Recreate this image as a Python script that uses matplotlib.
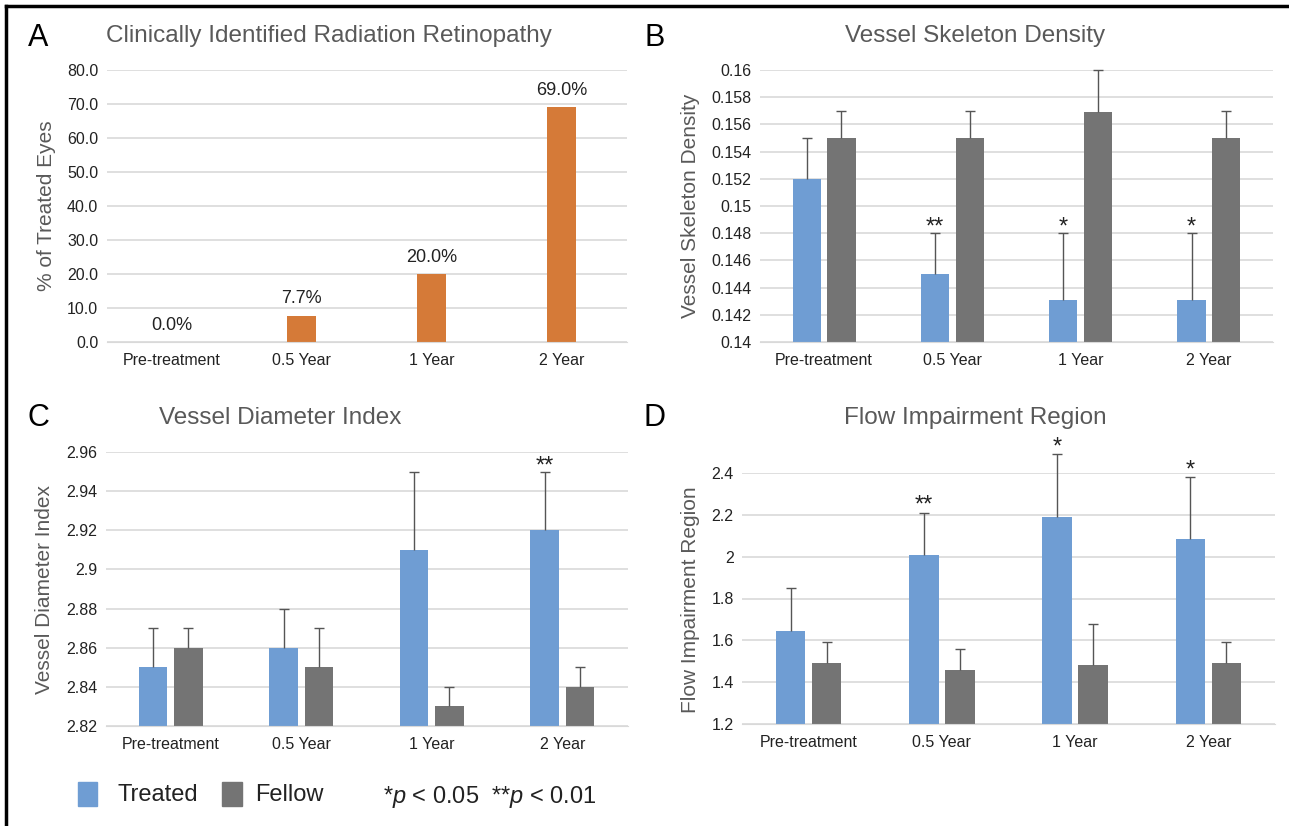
import matplotlib
matplotlib.use("Agg")
import matplotlib.pyplot as plt
from matplotlib.lines import Line2D
from matplotlib.patches import Rectangle
import numpy as np

# Dados
categorias = ["Pre-treatment", "0.5 Year", "1 Year", "2 Year"]

retinopatia = [0.0, 7.7, 20.0, 69.0]
rotulos_retinopatia = ["0.0%", "7.7%", "20.0%", "69.0%"]

skel_tratado = [0.152, 0.145, 0.1431, 0.1431]
skel_tratado_err = [0.003, 0.003, 0.0049, 0.0049]
skel_fellow = [0.155, 0.155, 0.1569, 0.155]
skel_fellow_err = [0.002, 0.002, 0.0031, 0.002]
skel_sig = ["", "**", "*", "*"]

diam_tratado = [2.85, 2.86, 2.91, 2.92]
diam_tratado_err = [0.02, 0.02, 0.04, 0.03]
diam_fellow = [2.86, 2.85, 2.83, 2.84]
diam_fellow_err = [0.01, 0.02, 0.01, 0.01]
diam_sig = ["", "", "", "**"]

fluxo_tratado = [1.645, 2.01, 2.19, 2.085]
fluxo_tratado_err = [0.205, 0.20, 0.30, 0.295]
fluxo_fellow = [1.49, 1.46, 1.48, 1.49]
fluxo_fellow_err = [0.10, 0.10, 0.20, 0.10]
fluxo_sig = ["", "**", "*", "*"]

AZUL = "#6f9dd3"
CINZA = "#747474"
LARANJA = "#d57a38"
GRADE = "#d9d9d9"
TEXTO = "#595959"

plt.rcParams["font.family"] = ["Liberation Sans", "DejaVu Sans"]
plt.rcParams["mathtext.fontset"] = "custom"
plt.rcParams["mathtext.it"] = "Liberation Sans:italic"
plt.rcParams["mathtext.rm"] = "Liberation Sans"

W, H = 1289, 826
fig = plt.figure(figsize=(W / 100, H / 100), dpi=100)
fig.patch.set_facecolor("white")


def px_rect(l, t, r, b):
    """Converte pixels (origem no topo) para coordenadas da figura"""
    return [l / W, 1 - b / H, (r - l) / W, (b - t) / H]


def fx(x):
    return x / W


def fy(y):
    return 1 - y / H


def estilo_eixo(ax, ylim, ticks, fmt):
    ax.set_ylim(*ylim)
    ax.set_xlim(-0.5, 3.5)
    ax.set_yticks(ticks)
    ax.set_yticklabels([fmt(t) for t in ticks])
    ax.set_xticks(range(len(categorias)))
    ax.set_xticklabels(categorias)
    ax.tick_params(length=0, labelsize=11.5, labelcolor="#222222", pad=8)
    ax.tick_params(axis="y", pad=6)
    for s in ["top", "right", "left"]:
        ax.spines[s].set_visible(False)
    ax.spines["bottom"].set_color(GRADE)
    ax.grid(axis="y", color=GRADE, linewidth=1.2)
    ax.set_axisbelow(True)


def barras_pareadas(ax, tratado, t_err, fellow, f_err, sig, dy):
    x = np.arange(len(categorias))
    larg = 0.22
    gap = 0.05
    xt = x - (larg + gap) / 2
    xf = x + (larg + gap) / 2
    ax.bar(xt, tratado, larg, color=AZUL, zorder=2)
    ax.bar(xf, fellow, larg, color=CINZA, zorder=2)
    kw = dict(fmt="none", ecolor="#555555", elinewidth=1, capsize=3.5, capthick=1, zorder=3)
    e1 = ax.errorbar(xt, tratado, yerr=[np.zeros(4), t_err], **kw)
    e2 = ax.errorbar(xf, fellow, yerr=[np.zeros(4), f_err], **kw)
    for e in (e1, e2):
        caps = e.lines[1]
        caps[0].set_visible(False)  # so a barra superior, como no original
        for art in list(caps) + list(e.lines[2]):
            art.set_clip_on(False)
    for xi, v, er, s in zip(xt, tratado, t_err, sig):
        if s:
            ax.text(xi, v + er + dy, s, ha="center", va="bottom", fontsize=17,
                    color="#222222", clip_on=False)


# Painel A
axA = fig.add_axes(px_rect(106.5, 70, 626.5, 342))
estilo_eixo(axA, (0, 80), np.arange(0, 81, 10), lambda t: f"{t:.1f}")
axA.bar(range(4), retinopatia, 0.22, color=LARANJA, zorder=2)
for i, (v, r) in enumerate(zip(retinopatia, rotulos_retinopatia)):
    axA.text(i, v + 2.5, r, ha="center", va="bottom", fontsize=13, color="#222222")

# Painel B
axB = fig.add_axes(px_rect(760, 70, 1273, 342))
estilo_eixo(axB, (0.14, 0.16), np.linspace(0.14, 0.16, 11), lambda t: f"{round(t, 3):g}")
barras_pareadas(axB, skel_tratado, skel_tratado_err, skel_fellow, skel_fellow_err, skel_sig, -0.0004)

# Painel C
axC = fig.add_axes(px_rect(105.5, 452, 627.5, 726))
estilo_eixo(axC, (2.82, 2.96), np.linspace(2.82, 2.96, 8), lambda t: f"{round(t, 2):g}")
barras_pareadas(axC, diam_tratado, diam_tratado_err, diam_fellow, diam_fellow_err, diam_sig, -0.003)

# Painel D
axD = fig.add_axes(px_rect(742, 473, 1275, 724))
estilo_eixo(axD, (1.2, 2.4), np.linspace(1.2, 2.4, 7), lambda t: f"{round(t, 1):g}")
barras_pareadas(axD, fluxo_tratado, fluxo_tratado_err, fluxo_fellow, fluxo_fellow_err, fluxo_sig, -0.02)

# Titulos, letras e rotulos dos eixos
titulos = [
    ("A", 38, 38, "Clinically Identified Radiation Retinopathy", 329, 36, "% of Treated Eyes", 47, 206),
    ("B", 655, 38, "Vessel Skeleton Density", 975, 36, "Vessel Skeleton Density", 690, 206),
    ("C", 38, 418, "Vessel Diameter Index", 280, 418, "Vessel Diameter Index", 45, 589),
    ("D", 655, 418, "Flow Impairment Region", 975, 418, "Flow Impairment Region", 690, 600),
]
for letra, lx, ly, tit, tx, ty, ylab, yx, yy in titulos:
    fig.text(fx(lx), fy(ly), letra, fontsize=22, ha="center", va="center", color="black")
    fig.text(fx(tx), fy(ty), tit, fontsize=17.5, ha="center", va="center", color=TEXTO)
    fig.text(fx(yx), fy(yy), ylab, fontsize=15, ha="center", va="center", rotation=90, color=TEXTO)

# Legenda
fig.add_artist(Rectangle((fx(78), fy(806)), 19 / W, 24 / H, color=AZUL, transform=fig.transFigure))
fig.add_artist(Rectangle((fx(222), fy(806)), 20 / W, 24 / H, color=CINZA, transform=fig.transFigure))
fig.text(fx(118), fy(795), "Treated", fontsize=17, va="center", ha="left", color="#222222")
fig.text(fx(255), fy(795), "Fellow", fontsize=17, va="center", ha="left", color="#222222")
fig.text(fx(383), fy(797), "*$p$ < 0.05  **$p$ < 0.01", fontsize=17, va="center", ha="left",
         color="#222222")

# Moldura (topo e esquerda)
fig.add_artist(Line2D([fx(6), 1], [fy(6), fy(6)], color="black", linewidth=2.5))
fig.add_artist(Line2D([fx(6), fx(6)], [fy(6), 0], color="black", linewidth=2.5))

fig.savefig("out.png", dpi=100)
